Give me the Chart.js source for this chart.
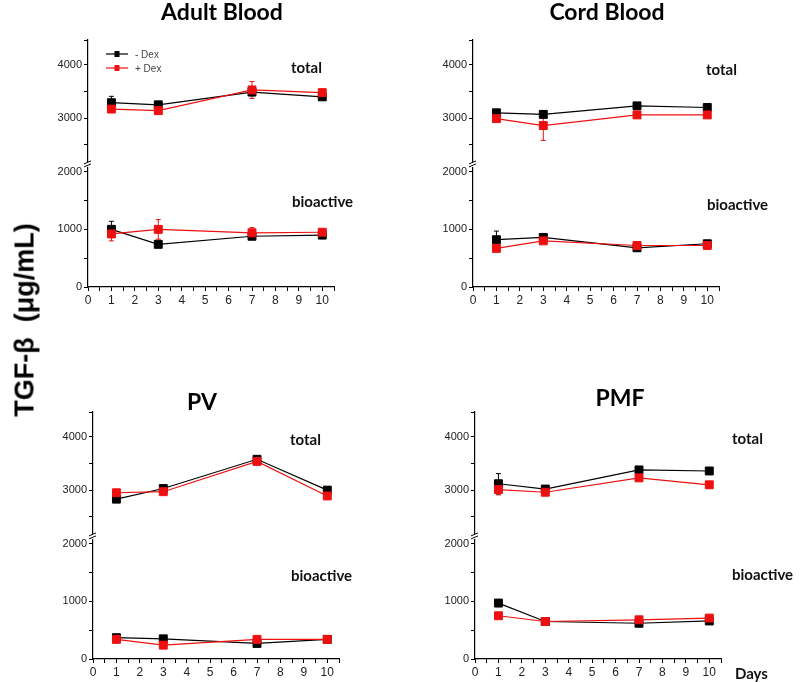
<!DOCTYPE html>
<html>
<head>
<meta charset="utf-8">
<script src="https://cdn.jsdelivr.net/npm/chart.js@4.4.0/dist/chart.umd.min.js"></script>
<style>
body { margin:0; width:800px; height:682px; overflow:hidden; background:#fff; position:relative; }
.panel { position:absolute; width:380px; height:310px; }
#ylab { position:absolute; left:25px; top:320px; transform:translate(-50%,-50%) rotate(-90deg); white-space:pre;
  font:bold 27px 'Liberation Sans', Arial, sans-serif; color:#000; }
#days { position:absolute; left:735px; top:664px; font:bold 15px Lato, sans-serif; color:#111; }
</style>
</head>
<body>
<div class="panel" style="left:40px;top:0px"><canvas id="adult" width="380" height="310"></canvas></div>
<div class="panel" style="left:425px;top:0px"><canvas id="cord" width="380" height="310"></canvas></div>
<div class="panel" style="left:45px;top:372px"><canvas id="pv" width="380" height="310"></canvas></div>
<div class="panel" style="left:427px;top:372px"><canvas id="pmf" width="380" height="310"></canvas></div>
<div id="ylab">TGF-β  (μg/mL)</div>
<div id="days">Days</div>
<script>
const days = [1, 3, 7, 10];

// Adult Blood
const adultTotalMinus = [3290, 3250, 3490, 3400];
const adultTotalPlus = [3170, 3140, 3530, 3480];
const adultBioMinus = [1000, 740, 880, 900];
const adultBioPlus = [920, 1000, 940, 950];
const adultTotalMinusErr = [120, 40, 70, 30];
const adultTotalPlusErr = [50, 50, 160, 50];
const adultBioMinusErr = [140, 50, 40, 30];
const adultBioPlusErr = [120, 170, 90, 40];

// Cord Blood
const cordTotalMinus = [3100, 3070, 3230, 3200];
const cordTotalPlus = [2990, 2860, 3060, 3060];
const cordBioMinus = [820, 860, 680, 750];
const cordBioPlus = [670, 800, 720, 720];
const cordTotalMinusErr = [50, 50, 60, 50];
const cordTotalPlusErr = [50, 280, 40, 40];
const cordBioMinusErr = [150, 40, 40, 40];
const cordBioPlusErr = [40, 40, 40, 30];

// PV
const pvTotalMinus = [2830, 3030, 3580, 3000];
const pvTotalPlus = [2950, 2970, 3540, 2890];
const pvBioMinus = [370, 350, 270, 340];
const pvBioPlus = [340, 240, 340, 340];
const pvTotalMinusErr = [40, 40, 50, 40];
const pvTotalPlusErr = [60, 40, 50, 50];
const pvBioMinusErr = [30, 30, 30, 30];
const pvBioPlusErr = [30, 30, 30, 30];

// PMF
const pmfTotalMinus = [3120, 3020, 3380, 3360];
const pmfTotalPlus = [3010, 2960, 3230, 3100];
const pmfBioMinus = [970, 650, 620, 660];
const pmfBioPlus = [750, 650, 680, 710];
const pmfTotalMinusErr = [190, 40, 60, 50];
const pmfTotalPlusErr = [100, 40, 40, 40];
const pmfBioMinusErr = [60, 30, 30, 30];
const pmfBioPlusErr = [40, 30, 30, 30];

const yTicksTop = [2500, 3000, 3500, 4000];
const yTicksBottom = [0, 500, 1000, 1500, 2000];

const BLACK = '#000000';
const RED = '#ee1010';

Chart.defaults.font.family = "'Liberation Sans', Arial, sans-serif";

function toPoints(vals) {
  return days.map((d, i) => ({x: d, y: vals[i]}));
}

function series(label, vals, errs, color, axis) {
  return {
    label: label, data: toPoints(vals), err: errs,
    borderColor: color, backgroundColor: color, borderWidth: 1.2,
    pointStyle: 'rect', pointRadius: 5.6, pointHoverRadius: 5.6,
    pointBorderWidth: 1, pointBorderColor: color, yAxisID: axis
  };
}

const panelDecor = {
  id: 'panelDecor',
  beforeDatasetsDraw(chart) {
    const ctx = chart.ctx;
    chart.data.datasets.forEach((ds, i) => {
      const meta = chart.getDatasetMeta(i);
      const ys = chart.scales[ds.yAxisID];
      ctx.save();
      ctx.strokeStyle = ds.borderColor;
      ctx.lineWidth = 1;
      meta.data.forEach((pt, j) => {
        const e = ds.err[j];
        const v = ds.data[j].y;
        const y1 = ys.getPixelForValue(v + e), y2 = ys.getPixelForValue(v - e);
        ctx.beginPath();
        ctx.moveTo(pt.x, y1); ctx.lineTo(pt.x, y2);
        ctx.moveTo(pt.x - 2.5, y1); ctx.lineTo(pt.x + 2.5, y1);
        ctx.moveTo(pt.x - 2.5, y2); ctx.lineTo(pt.x + 2.5, y2);
        ctx.stroke();
      });
      ctx.restore();
    });
  },
  afterDraw(chart, args, opts) {
    const ctx = chart.ctx;
    const a = chart.chartArea;
    ctx.save();
    // title
    ctx.fillStyle = '#000';
    ctx.font = 'bold 23px Lato, sans-serif';
    ctx.textAlign = 'center';
    ctx.textBaseline = 'alphabetic';
    ctx.fillText(opts.title, a.left + opts.titleX, a.top + opts.titleY);
    // total / bioactive
    ctx.font = 'bold 15px Lato, sans-serif';
    ctx.textAlign = 'left';
    ctx.textBaseline = 'middle';
    ctx.fillStyle = '#111';
    ctx.fillText('total', a.left + opts.totalAt[0], a.top + opts.totalAt[1]);
    ctx.fillText('bioactive', a.left + opts.bioAt[0], a.top + opts.bioAt[1]);
    // axis break
    const y = chart.scales.yb.top;
    const x = a.left;
    ctx.fillStyle = '#fff';
    ctx.fillRect(x - 2, y - 4, 4, 5);
    ctx.strokeStyle = '#000';
    ctx.lineWidth = 1;
    ctx.beginPath();
    ctx.moveTo(x - 4, y - 2); ctx.lineTo(x + 3, y - 5);
    ctx.moveTo(x - 4, y + 1); ctx.lineTo(x + 3, y - 2);
    ctx.stroke();
    // legend
    if (opts.legend) {
      const rows = [['- Dex', BLACK], ['+ Dex', RED]];
      rows.forEach((r, i) => {
        const ly = a.top + 14 + i * 14;
        const lx = a.left + 18;
        ctx.strokeStyle = r[1];
        ctx.fillStyle = r[1];
        ctx.lineWidth = 1.2;
        ctx.beginPath(); ctx.moveTo(lx, ly); ctx.lineTo(lx + 22, ly); ctx.stroke();
        ctx.fillRect(lx + 8.5, ly - 3, 5, 6);
        ctx.fillStyle = '#444';
        ctx.font = '10px "Liberation Sans", Arial, sans-serif';
        ctx.textBaseline = 'middle';
        ctx.fillText(r[0], lx + 29, ly + 1);
      });
    }
    ctx.restore();
  }
};

function yAxis(min, max, weight, ticks, top) {
  return {
    type: 'linear', position: 'left', stack: 'v', stackWeight: weight,
    min: min, max: max,
    afterBuildTicks: s => {
      const t = ticks.map(v => ({value: v}));
      if (top) t.push({value: max});
      s.ticks = t;
    },
    afterFit: s => { s.width = 48; },
    ticks: {
      padding: 2, color: '#222', font: {size: 11},
      callback: v => (v % 1000 === 0 ? String(v) : '')
    },
    grid: {drawOnChartArea: false, tickLength: 4, color: '#000', tickWidth: 1},
    border: {color: '#000', width: 1.2}
  };
}

function buildPanel(id, title, sets, decor) {
  const ctx = document.getElementById(id).getContext('2d');
  return new Chart(ctx, {
    type: 'line',
    data: {
      datasets: [
        series('+ Dex', sets[1], sets[5], RED, 'yt'),
        series('- Dex', sets[0], sets[4], BLACK, 'yt'),
        series('+ Dex', sets[3], sets[7], RED, 'yb'),
        series('- Dex', sets[2], sets[6], BLACK, 'yb')
      ]
    },
    options: {
      responsive: false,
      animation: false,
      events: [],
      layout: {padding: {top: 40, right: 86, bottom: 0, left: 0}},
      scales: {
        x: {
          type: 'linear', min: 0, max: 10.5,
          afterBuildTicks: s => {
            const t = [];
            for (let i = 0; i <= 21; i++) t.push({value: i / 2});
            s.ticks = t;
          },
          afterFit: s => { s.height = 23; },
          ticks: {
            autoSkip: false, maxRotation: 0, padding: 2, color: '#222', font: {size: 12},
            callback: v => (Number.isInteger(v) && v <= 10 ? String(v) : '')
          },
          grid: {drawOnChartArea: false, tickLength: 4, color: '#000'},
          border: {color: '#000', width: 1.2}
        },
        // left-stacked axes are laid out in reverse order: bottom part first
        yb: yAxis(0, 2100, 1, yTicksBottom, false),
        yt: yAxis(2100, 4470, 1.04, yTicksTop, true)
      },
      plugins: {
        legend: {display: false},
        tooltip: {enabled: false},
        title: {display: false},
        panelDecor: Object.assign({title: title}, decor)
      }
    },
    plugins: [panelDecor]
  });
}

buildPanel('adult', 'Adult Blood',
  [adultTotalMinus, adultTotalPlus, adultBioMinus, adultBioPlus,
   adultTotalMinusErr, adultTotalPlusErr, adultBioMinusErr, adultBioPlusErr],
  {titleX: 134, titleY: -20, totalAt: [203, 28], bioAt: [204, 162], legend: true});

buildPanel('cord', 'Cord Blood',
  [cordTotalMinus, cordTotalPlus, cordBioMinus, cordBioPlus,
   cordTotalMinusErr, cordTotalPlusErr, cordBioMinusErr, cordBioPlusErr],
  {titleX: 134, titleY: -20, totalAt: [233, 30], bioAt: [234, 165], legend: false});

buildPanel('pv', 'PV',
  [pvTotalMinus, pvTotalPlus, pvBioMinus, pvBioPlus,
   pvTotalMinusErr, pvTotalPlusErr, pvBioMinusErr, pvBioPlusErr],
  {titleX: 109, titleY: -2, totalAt: [197, 28], bioAt: [198, 164], legend: false});

buildPanel('pmf', 'PMF',
  [pmfTotalMinus, pmfTotalPlus, pmfBioMinus, pmfBioPlus,
   pmfTotalMinusErr, pmfTotalPlusErr, pmfBioMinusErr, pmfBioPlusErr],
  {titleX: 145, titleY: -6, totalAt: [257, 27], bioAt: [257, 163], legend: false});
</script>
</body>
</html>
